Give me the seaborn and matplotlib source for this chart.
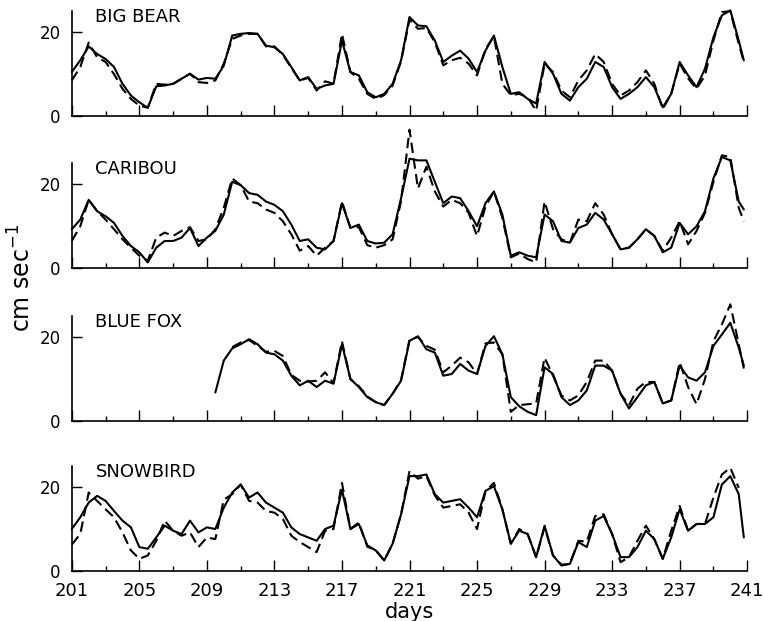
import numpy as np
import pandas as pd
import matplotlib
matplotlib.use("Agg")
import matplotlib.pyplot as plt
import seaborn as sns
from matplotlib.ticker import FixedLocator

# ---- data -------------------------------------------------------------
# sample days (half-day steps, last sample at 240.8)
days = list(np.arange(201.0, 240.75, 0.5)) + [240.8]
nan = np.nan

stations = ["BIG BEAR", "CARIBOU", "BLUE FOX", "SNOWBIRD"]

big_bear_solid = [
    10.5, 13.3, 16.6, 14.8, 13.6, 11.7, 7.7, 4.9, 3.3, 2.0,
    7.1, 7.3, 7.7, 8.9, 10.1, 8.7, 9.1, 8.9, 12.0, 19.2,
    19.6, 19.8, 19.6, 16.8, 16.4, 14.8, 11.7, 8.5, 9.3, 6.5,
    7.3, 7.7, 18.0, 10.5, 9.7, 5.7, 4.5, 5.3, 7.7, 13.3,
    23.6, 21.6, 21.4, 18.0, 12.9, 14.4, 15.6, 13.7, 10.5, 15.6,
    19.2, 11.7, 5.3, 5.7, 4.1, 3.0, 12.9, 10.1, 5.3, 3.7,
    6.9, 8.9, 12.9, 11.7, 6.9, 4.1, 5.3, 6.9, 9.3, 6.9,
    2.1, 5.3, 12.9, 9.7, 6.9, 11.3, 18.8, 24.0, 25.2, 18.0,
    13.3]
big_bear_dashed = [
    8.5, 11.7, 17.5, 14.0, 12.9, 10.0, 6.5, 4.1, 2.5, 2.0,
    7.7, 7.5, 7.7, 8.9, 10.1, 8.1, 7.9, 8.5, 12.5, 18.4,
    19.2, 19.6, 19.6, 16.6, 16.6, 14.6, 11.5, 8.5, 9.1, 6.1,
    8.3, 7.7, 19.6, 10.5, 8.9, 5.3, 4.1, 5.0, 7.3, 13.0,
    23.0, 20.8, 21.0, 17.6, 12.1, 13.3, 13.9, 12.5, 9.7, 16.0,
    19.0, 7.7, 5.0, 5.3, 4.5, 1.3, 12.5, 10.5, 6.1, 4.5,
    8.5, 10.9, 14.8, 12.9, 7.7, 4.9, 6.1, 8.1, 10.9, 7.7,
    1.7, 5.3, 12.5, 9.0, 6.5, 9.7, 18.0, 24.8, 25.0, 17.2,
    12.9]

caribou_solid = [
    9.3, 11.6, 16.3, 13.6, 12.4, 10.8, 7.7, 5.3, 3.8, 1.4,
    4.9, 6.5, 6.5, 7.3, 9.6, 5.3, 7.3, 8.9, 12.8, 20.6,
    19.8, 17.9, 17.5, 15.9, 15.1, 13.6, 10.4, 6.5, 6.9, 4.9,
    4.5, 6.5, 15.5, 9.6, 10.4, 6.5, 5.9, 6.1, 8.1, 16.7,
    26.1, 25.7, 25.7, 20.6, 15.5, 17.1, 16.7, 13.6, 10.0, 15.5,
    18.3, 12.8, 3.0, 3.8, 3.0, 2.6, 12.8, 11.2, 6.5, 6.1,
    9.6, 10.4, 13.2, 11.6, 8.1, 4.5, 4.9, 6.9, 9.3, 7.7,
    3.8, 4.9, 10.8, 8.1, 10.0, 13.6, 21.4, 26.5, 25.7, 15.9,
    14.0]
caribou_dashed = [
    6.5, 10.0, 16.3, 13.6, 11.6, 9.3, 6.9, 4.9, 3.0, 1.8,
    7.3, 8.5, 7.7, 8.9, 9.8, 6.5, 6.9, 9.3, 14.4, 21.4,
    19.8, 15.9, 15.5, 14.0, 13.2, 11.2, 8.1, 4.2, 5.3, 3.0,
    4.9, 6.5, 15.9, 9.6, 9.8, 5.5, 4.9, 5.5, 6.9, 16.0,
    33.0, 19.0, 24.2, 18.3, 14.7, 16.3, 15.5, 13.2, 7.7, 14.7,
    18.3, 12.0, 2.6, 3.5, 2.2, 1.4, 15.9, 9.3, 6.9, 6.1,
    11.6, 11.2, 15.5, 12.8, 8.1, 4.5, 4.9, 6.9, 9.3, 7.7,
    4.2, 7.3, 11.2, 5.7, 8.9, 13.2, 20.6, 26.9, 26.5, 14.4,
    11.2]

blue_fox_solid = [
    nan, nan, nan, nan, nan, nan, nan, nan, nan, nan,
    nan, nan, nan, nan, nan, nan, nan, 6.8, 14.4, 17.3,
    18.3, 19.5, 18.3, 16.3, 15.9, 14.4, 10.8, 8.5, 9.6, 8.1,
    9.6, 8.9, 18.3, 10.0, 8.1, 5.7, 4.5, 3.8, 6.5, 9.6,
    19.1, 20.2, 17.1, 16.3, 10.8, 11.2, 13.6, 12.0, 11.2, 17.9,
    20.2, 15.9, 5.7, 3.5, 2.2, 1.4, 12.8, 11.2, 5.7, 3.8,
    4.9, 7.3, 13.2, 13.2, 12.0, 6.5, 3.0, 5.7, 8.5, 9.3,
    4.2, 4.9, 13.2, 10.4, 9.6, 11.6, 17.9, 20.6, 23.4, 17.5,
    13.2]
blue_fox_dashed = [
    nan, nan, nan, nan, nan, nan, nan, nan, nan, nan,
    nan, nan, nan, nan, nan, nan, nan, nan, nan, 17.6,
    18.7, 19.3, 17.9, 16.5, 16.7, 15.5, 11.0, 9.6, 9.4, 9.6,
    11.6, 9.0, 19.0, 10.0, 8.3, 5.9, 4.5, 3.8, 6.5, 9.8,
    19.4, 20.0, 17.9, 17.0, 11.6, 13.2, 15.1, 14.0, 11.2, 18.5,
    18.7, 15.9, 2.2, 3.8, 4.0, 4.2, 15.1, 10.8, 6.1, 4.9,
    6.1, 9.3, 14.4, 14.4, 12.0, 6.5, 3.8, 7.7, 9.3, 9.3,
    4.2, 4.9, 14.0, 8.1, 4.0, 10.0, 19.0, 23.0, 27.8, 18.3,
    12.5]

snowbird_solid = [
    10.0, 12.8, 16.3, 17.9, 16.7, 14.3, 12.0, 10.4, 5.7, 5.3,
    8.0, 10.8, 9.6, 8.8, 12.0, 9.2, 10.4, 10.0, 15.1, 18.7,
    20.6, 17.5, 18.7, 16.3, 15.1, 13.9, 10.4, 8.8, 8.0, 7.2,
    10.0, 10.8, 19.4, 10.0, 11.2, 6.1, 4.9, 2.5, 6.5, 13.5,
    22.6, 22.6, 23.0, 18.3, 16.3, 16.7, 17.1, 15.1, 12.8, 19.1,
    20.2, 14.7, 6.5, 9.6, 8.8, 3.3, 10.8, 3.7, 1.3, 1.7,
    6.9, 5.7, 12.0, 13.1, 8.8, 3.3, 3.3, 5.7, 9.6, 7.6,
    2.9, 8.0, 14.7, 9.6, 11.2, 11.2, 12.8, 20.6, 22.6, 18.3,
    8.0]
snowbird_dashed = [
    6.3, 8.8, 18.7, 16.7, 14.7, 12.8, 9.2, 4.9, 2.9, 3.7,
    7.2, 12.0, 9.6, 8.4, 9.2, 5.7, 8.0, 7.6, 17.0, 18.3,
    20.6, 16.7, 16.3, 14.3, 13.9, 12.4, 8.4, 6.9, 5.7, 4.5,
    9.6, 10.0, 21.0, 10.0, 11.6, 5.8, 5.0, 2.5, 6.5, 13.5,
    23.8, 22.0, 22.6, 18.0, 15.1, 15.5, 15.9, 13.9, 10.0, 19.0,
    21.0, 14.7, 6.5, 10.0, 8.8, 3.3, 10.4, 3.7, 1.5, 1.7,
    7.2, 7.0, 13.1, 13.5, 8.8, 2.1, 3.3, 7.2, 10.8, 7.6,
    2.9, 9.6, 15.5, 9.6, 11.2, 11.2, 17.5, 23.0, 24.6, 19.8,
    nan]

solid_series = [big_bear_solid, caribou_solid, blue_fox_solid, snowbird_solid]
dashed_series = [big_bear_dashed, caribou_dashed, blue_fox_dashed, snowbird_dashed]

x_major = [201, 205, 209, 213, 217, 221, 225, 229, 233, 237, 241]
x_minor = [203, 207, 211, 215, 219, 223, 227, 231, 235, 239]
y_ticks = [0, 20]

# ---- figure -----------------------------------------------------------
sns.set_style("white")
plt.rcParams["font.family"] = ["DejaVu Sans"]
plt.rcParams["mathtext.fontset"] = "dejavusans"
plt.rcParams["text.color"] = "black"
plt.rcParams["xtick.color"] = "black"
plt.rcParams["ytick.color"] = "black"
plt.rcParams["xtick.labelcolor"] = "black"
plt.rcParams["ytick.labelcolor"] = "black"

fig = plt.figure(figsize=(7.64, 6.21), dpi=100)
left, width, height = 0.094, 0.884, 0.169
bottoms = [0.813, 0.568, 0.322, 0.0805]

for i, (name, solid, dashed, bottom) in enumerate(
        zip(stations, solid_series, dashed_series, bottoms)):
    ax = fig.add_axes([left, bottom, width, height])
    n = len(days)
    df = pd.DataFrame({
        "day": days + days,
        "speed": list(solid) + list(dashed),
        "trace": ["a"] * n + ["b"] * n,
    })
    sns.lineplot(data=df, x="day", y="speed", style="trace",
                 dashes={"a": "", "b": (5, 2.6)}, color="black",
                 linewidth=1.5, estimator=None, legend=False, ax=ax)
    for ln in ax.lines:
        ln.set_clip_on(False)

    ax.set_xlim(201, 241)
    ax.set_ylim(0, 25)
    ax.set_xlabel("")
    ax.set_ylabel("")
    for side in ("top", "right"):
        ax.spines[side].set_visible(False)
    for side in ("left", "bottom"):
        ax.spines[side].set_linewidth(1.2)
        ax.spines[side].set_color("black")

    ax.xaxis.set_major_locator(FixedLocator(x_major))
    ax.xaxis.set_minor_locator(FixedLocator(x_minor))
    ax.set_yticks(y_ticks)
    ax.tick_params(axis="x", which="major", bottom=True, direction="in",
                   length=8, width=1, labelsize=13, pad=8,
                   labelbottom=(i == 3))
    ax.tick_params(axis="x", which="minor", bottom=True, direction="in",
                   length=3.5, width=1)
    ax.tick_params(axis="y", which="major", left=True, direction="in",
                   length=7, width=1, labelsize=12, pad=8)
    ax.tick_params(axis="y", which="minor", left=False)

    ax.text(202.4, 23.6, name, fontsize=13, ha="left", va="center")

fig.text(0.029, 0.552, "cm sec$^{-1}$", rotation=90, fontsize=17,
         ha="center", va="center")
fig.text(0.536, 0.0145, "days", fontsize=15, ha="center", va="center")

fig.savefig("out.png", dpi=100)
